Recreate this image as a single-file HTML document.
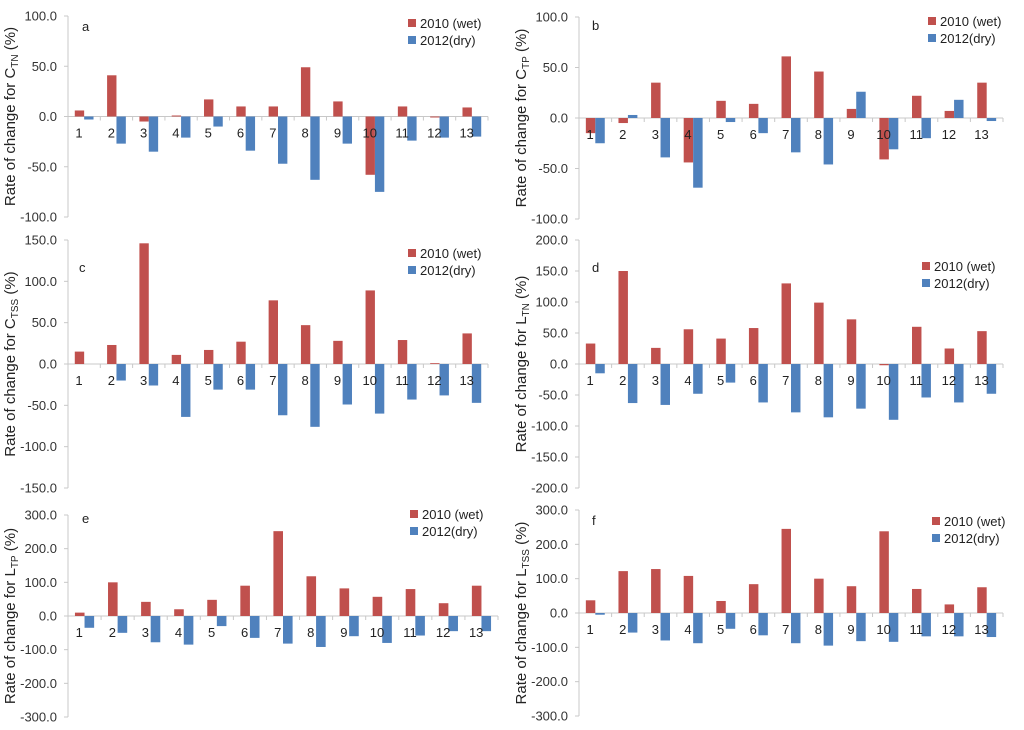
<!DOCTYPE html>
<html><head><meta charset="utf-8">
<style>
body{margin:0;background:#fff;}
svg{display:block;font-family:"Liberation Sans",sans-serif;}
</style></head>
<body>
<svg id="chart" width="1024" height="730" xmlns="http://www.w3.org/2000/svg"></svg>
<script>
const categories = ['1','2','3','4','5','6','7','8','9','10','11','12','13'];
const aWet = [6,41,-5,1,17,10,10,49,15,-58,10,-1,9];
const aDry = [-3,-27,-35,-21,-10,-34,-47,-63,-27,-75,-24,-21,-20];
const bWet = [-15,-5,35,-44,17,14,61,46,9,-41,22,7,35];
const bDry = [-25,3,-39,-69,-4,-15,-34,-46,26,-31,-20,18,-3];
const cWet = [15,23,146,11,17,27,77,47,28,89,29,1,37];
const cDry = [0,-20,-26,-64,-31,-31,-62,-76,-49,-60,-43,-38,-47];
const dWet = [33,150,26,56,41,58,130,99,72,-2,60,25,53];
const dDry = [-15,-63,-66,-48,-30,-62,-78,-86,-72,-90,-54,-62,-48];
const eWet = [10,100,42,20,48,90,252,118,82,57,80,38,90];
const eDry = [-35,-50,-78,-85,-30,-65,-82,-92,-60,-80,-58,-45,-45];
const fWet = [37,122,128,108,35,84,245,100,78,238,70,25,75];
const fDry = [-5,-57,-80,-88,-46,-65,-88,-95,-82,-84,-68,-68,-70];
const ticksAB = [100,50,0,-50,-100];
const ticksC = [150,100,50,0,-50,-100,-150];
const ticksD = [200,150,100,50,0,-50,-100,-150,-200];
const ticksEF = [300,200,100,0,-100,-200,-300];

const NS='http://www.w3.org/2000/svg';
const svg=document.getElementById('chart');
function mk(tag,attrs,parent){const e=document.createElementNS(NS,tag);for(const k in attrs)e.setAttribute(k,attrs[k]);(parent||svg).appendChild(e);return e;}

const panels=[
 {id:'a',wet:aWet,dry:aDry,ticks:ticksAB,x0:68,x1:488,yTop:16,yBot:217,sub:'TN',pre:'C',lx:408,ly:19,letX:82,letY:31},
 {id:'b',wet:bWet,dry:bDry,ticks:ticksAB,x0:579,x1:1003,yTop:17,yBot:219,sub:'TP',pre:'C',lx:928,ly:17,letX:592,letY:30},
 {id:'c',wet:cWet,dry:cDry,ticks:ticksC,x0:68,x1:488,yTop:240,yBot:488,sub:'TSS',pre:'C',lx:408,ly:249,letX:79,letY:272},
 {id:'d',wet:dWet,dry:dDry,ticks:ticksD,x0:579,x1:1003,yTop:240,yBot:488,sub:'TN',pre:'L',lx:922,ly:262,letX:592,letY:272},
 {id:'e',wet:eWet,dry:eDry,ticks:ticksEF,x0:68,x1:498,yTop:515,yBot:717,sub:'TP',pre:'L',lx:410,ly:510,letX:82,letY:523},
 {id:'f',wet:fWet,dry:fDry,ticks:ticksEF,x0:579,x1:1003,yTop:510,yBot:716,sub:'TSS',pre:'L',lx:932,ly:517,letX:592,letY:525}
];

panels.forEach(p=>{
 const g=mk('g',{});
 
 
 const vmax=p.ticks[0], vmin=p.ticks[p.ticks.length-1];
 const y=v=>p.yTop+(vmax-v)/(vmax-vmin)*(p.yBot-p.yTop);
 const gw=(p.x1-p.x0)/categories.length, bw=gw*0.29;
 const ax=mk('line',{x1:p.x0,y1:p.yTop,x2:p.x0,y2:p.yBot,stroke:'#c8c8c8','stroke-width':1},g);
 
 
 p.ticks.forEach(t=>{
  mk('line',{x1:p.x0-4,y1:y(t),x2:p.x0,y2:y(t),stroke:'#c8c8c8'},g);
  const tl=mk('text',{x:p.x0-11,y:y(t)+4.5,'text-anchor':'end','font-size':13,fill:'#333'},g);
  tl.textContent=t.toFixed(1);
  
  
 });
 const xa=mk('line',{x1:p.x0,y1:y(0),x2:p.x1,y2:y(0),stroke:'#c8c8c8'},g);
 
 
 categories.forEach((c,i)=>{
  const cx=p.x0+gw*(i+0.5);
  mk('line',{x1:p.x0+gw*(i+1),y1:y(0),x2:p.x0+gw*(i+1),y2:y(0)+4,stroke:'#c8c8c8'},g);
  const r=mk('rect',{x:cx-bw,y:Math.min(y(p.wet[i]),y(0)),width:bw,height:Math.abs(y(p.wet[i])-y(0)),fill:'#c0504d'},g);
  
  
  const b=mk('rect',{x:cx,y:Math.min(y(p.dry[i]),y(0)),width:bw,height:Math.abs(y(p.dry[i])-y(0)),fill:'#4f81bd'},g);
  
  
  const l=mk('text',{x:cx-bw*0.55,y:y(0)+21,'text-anchor':'middle','font-size':13,fill:'#222'},g);
  l.textContent=c;
  
  
 });
 mk('rect',{x:p.lx,y:p.ly,width:8,height:8,fill:'#c0504d'},g);
 const t1=mk('text',{x:p.lx+12,y:p.ly+9,'font-size':13,fill:'#222'},g);t1.textContent='2010 (wet)';
 
 
 mk('rect',{x:p.lx,y:p.ly+17,width:8,height:8,fill:'#4f81bd'},g);
 const t2=mk('text',{x:p.lx+12,y:p.ly+26,'font-size':13,fill:'#222'},g);t2.textContent='2012(dry)';
 
 
 const lt=mk('text',{x:p.letX,y:p.letY,'font-size':13,fill:'#222'},g);lt.textContent=p.id;
 
 
 const cy=(p.yTop+p.yBot)/2, tx=p.x0-53;
 const yt=mk('text',{x:tx,y:cy,'text-anchor':'middle','font-size':15,fill:'#222',transform:`rotate(-90 ${tx} ${cy})`},g);
 
 
 yt.appendChild(document.createTextNode('Rate of change for '+p.pre));
 const s=mk('tspan',{'font-size':10,dy:3},yt);s.textContent=p.sub;
 const s2=mk('tspan',{dy:-3},yt);s2.textContent=' (%)';
});
</script>
</body></html>
